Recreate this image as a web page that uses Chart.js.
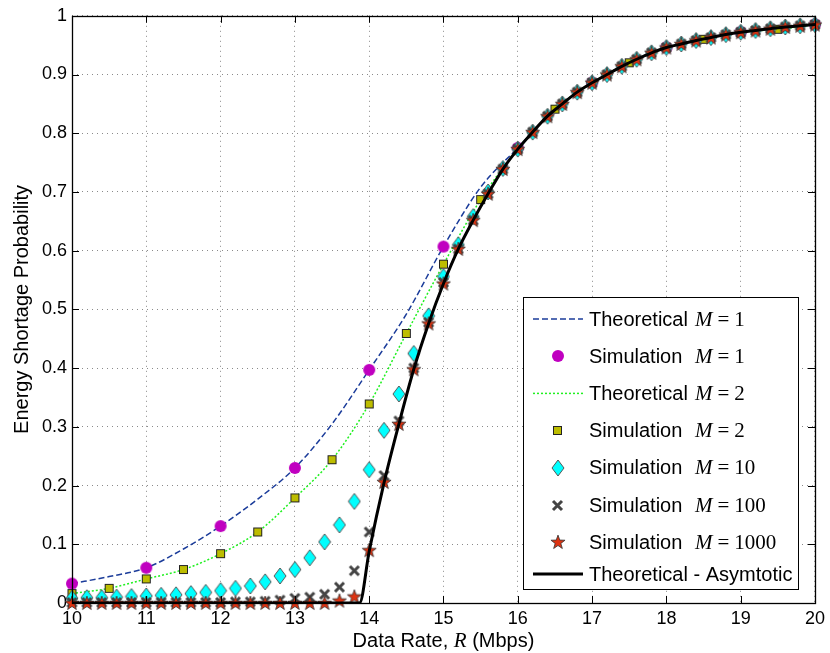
<!DOCTYPE html>
<html>
<head>
<meta charset="utf-8">
<script src="https://cdn.jsdelivr.net/npm/chart.js@4.4.1/dist/chart.umd.min.js"></script>
<style>
  html, body { margin: 0; padding: 0; background: #fff; }
  #wrap { width: 830px; height: 653px; position: relative; }
</style>
</head>
<body>
<div id="wrap"><canvas id="chart"></canvas></div>
<script>
// data rate grids (Mbps)
const rateInt = [10, 11, 12, 13, 14, 15, 16, 17, 18, 19, 20];
const rateHalf = [10, 10.5, 11, 11.5, 12, 12.5, 13, 13.5, 14, 14.5, 15, 15.5, 16, 16.5, 17, 17.5, 18, 18.5, 19, 19.5, 20];
const rateFine = [10, 10.2, 10.4, 10.6, 10.8, 11, 11.2, 11.4, 11.6, 11.8, 12, 12.2, 12.4, 12.6, 12.8,
  13, 13.2, 13.4, 13.6, 13.8, 14, 14.2, 14.4, 14.6, 14.8, 15, 15.2, 15.4, 15.6, 15.8,
  16, 16.2, 16.4, 16.6, 16.8, 17, 17.2, 17.4, 17.6, 17.8, 18, 18.2, 18.4, 18.6, 18.8,
  19, 19.2, 19.4, 19.6, 19.8, 20];
const asymRate = [10, 13.87, 14, 14.2, 14.4, 14.6, 14.8, 15, 15.2, 15.4, 15.6, 15.8,
  16, 16.2, 16.4, 16.6, 16.8, 17, 17.2, 17.4, 17.6, 17.8, 18, 18.2, 18.4, 18.6, 18.8,
  19, 19.2, 19.4, 19.6, 19.8, 20];

// energy shortage probability
const theoM1 = [0.033, 0.045, 0.060, 0.092, 0.131, 0.177, 0.230, 0.305, 0.397, 0.492, 0.607, 0.708, 0.775, 0.841, 0.886, 0.920, 0.946, 0.960, 0.972, 0.978, 0.985];
const simM1 = [0.033, 0.060, 0.131, 0.230, 0.397, 0.607, 0.775, 0.886, 0.946, 0.972, 0.985];
const theoM2 = [0.016, 0.025, 0.041, 0.057, 0.084, 0.121, 0.179, 0.244, 0.339, 0.459, 0.577, 0.687, 0.773, 0.841, 0.886, 0.920, 0.946, 0.960, 0.972, 0.977, 0.985];
const simM2 = [0.016, 0.025, 0.041, 0.057, 0.084, 0.121, 0.179, 0.244, 0.339, 0.459, 0.577, 0.687, 0.773, 0.841, 0.886, 0.920, 0.946, 0.960, 0.972, 0.977, 0.985];
const simM10 = [0.008, 0.009, 0.009, 0.010, 0.011, 0.012, 0.013, 0.014, 0.016, 0.018, 0.021, 0.025, 0.029, 0.036, 0.046,
  0.057, 0.077, 0.104, 0.133, 0.173, 0.227, 0.294, 0.356, 0.425, 0.489, 0.556, 0.610, 0.658, 0.700, 0.740,
  0.773, 0.802, 0.829, 0.850, 0.870, 0.886, 0.900, 0.914, 0.926, 0.937, 0.946, 0.952, 0.958, 0.963, 0.968,
  0.972, 0.975, 0.978, 0.981, 0.983, 0.985];
const simM100 = [0.001, 0.001, 0.001, 0.001, 0.001, 0.001, 0.001, 0.001, 0.001, 0.001, 0.001, 0.002, 0.002, 0.003, 0.005,
  0.008, 0.010, 0.015, 0.027, 0.055, 0.121, 0.217, 0.310, 0.400, 0.478, 0.546, 0.603, 0.652, 0.697, 0.739,
  0.773, 0.802, 0.829, 0.850, 0.870, 0.886, 0.900, 0.914, 0.926, 0.937, 0.946, 0.952, 0.958, 0.963, 0.968,
  0.972, 0.975, 0.978, 0.981, 0.983, 0.985];
const simM1000 = [0, 0, 0, 0, 0, 0, 0, 0, 0, 0, 0, 0, 0, 0, 0,
  0, 0, 0, 0.004, 0.011, 0.090, 0.206, 0.305, 0.398, 0.476, 0.544, 0.603, 0.652, 0.697, 0.739,
  0.773, 0.802, 0.829, 0.850, 0.870, 0.886, 0.900, 0.914, 0.926, 0.937, 0.946, 0.952, 0.958, 0.963, 0.968,
  0.972, 0.975, 0.978, 0.981, 0.983, 0.985];
const asymProb = [0, 0, 0.088, 0.205, 0.305, 0.398, 0.476, 0.544, 0.603, 0.652, 0.697, 0.739,
  0.773, 0.802, 0.829, 0.850, 0.870, 0.886, 0.900, 0.914, 0.926, 0.937, 0.946, 0.952, 0.958, 0.963, 0.968,
  0.972, 0.975, 0.978, 0.981, 0.983, 0.985];

// tick labels
const xTicks = [10, 11, 12, 13, 14, 15, 16, 17, 18, 19, 20];
const yTicks = ['0', '0.1', '0.2', '0.3', '0.4', '0.5', '0.6', '0.7', '0.8', '0.9', '1'];

// legend entries
const legendText = ['Theoretical', 'Simulation', 'Theoretical', 'Simulation', 'Simulation', 'Simulation', 'Simulation', 'Theoretical - Asymtotic'];
const legendM = ['1', '1', '2', '2', '10', '100', '1000', null];

const SANS = '"Liberation Sans", Arial, sans-serif';
const SERIF = '"Liberation Serif", "Times New Roman", serif';

function pts(xs, ys) {
    return xs.map((x, i) => ({ x: x, y: ys[i] }));
}

// matlab-like markers drawn on small canvases
function marker(w, h, draw) {
    const c = document.createElement('canvas');
    c.width = w;
    c.height = h;
    draw(c.getContext('2d'));
    return c;
}

const circleMk = marker(14, 14, g => {
    g.fillStyle = '#c000c0';
    g.beginPath();
    g.arc(7, 7, 6, 0, Math.PI * 2);
    g.fill();
});

const squareMk = marker(13, 13, g => {
    g.fillStyle = '#bdbd00';
    g.fillRect(2, 2, 9, 9);
    g.strokeStyle = '#222';
    g.lineWidth = 1;
    g.strokeRect(2.5, 2.5, 8, 8);
});

const diamondMk = marker(14, 18, g => {
    g.fillStyle = '#00ffff';
    g.strokeStyle = '#555';
    g.lineWidth = 1;
    g.beginPath();
    g.moveTo(7, 1);
    g.lineTo(13, 9);
    g.lineTo(7, 17);
    g.lineTo(1, 9);
    g.closePath();
    g.fill();
    g.stroke();
});

const crossMk = marker(13, 13, g => {
    g.strokeStyle = '#444';
    g.lineWidth = 3;
    g.beginPath();
    g.moveTo(2, 2); g.lineTo(11, 11);
    g.moveTo(11, 2); g.lineTo(2, 11);
    g.stroke();
});

const starMk = marker(16, 16, g => {
    g.fillStyle = '#dd3311';
    g.strokeStyle = '#333';
    g.lineWidth = 0.8;
    g.beginPath();
    for (let i = 0; i < 10; i++) {
        const r = i % 2 === 0 ? 7.4 : 3;
        const a = -Math.PI / 2 + i * Math.PI / 5;
        const px = 8 + r * Math.cos(a), py = 8.5 + r * Math.sin(a);
        if (i === 0) g.moveTo(px, py); else g.lineTo(px, py);
    }
    g.closePath();
    g.fill();
    g.stroke();
});

function markerSet(label, xs, ys, mk) {
    return {
        label: label,
        data: pts(xs, ys),
        showLine: false,
        pointStyle: mk,
        pointRadius: 6,
        clip: false
    };
}

const datasets = [
    {
        label: 'Theoretical M=1',
        data: pts(rateHalf, theoM1),
        showLine: true,
        borderColor: '#1b3c9a',
        borderWidth: 1.5,
        borderDash: [6, 3],
        pointRadius: 0,
        cubicInterpolationMode: 'monotone'
    },
    markerSet('Simulation M=1', rateInt, simM1, circleMk),
    {
        label: 'Theoretical M=2',
        data: pts(rateHalf, theoM2),
        showLine: true,
        borderColor: '#20f020',
        borderWidth: 1.5,
        borderDash: [2, 2],
        pointRadius: 0,
        cubicInterpolationMode: 'monotone'
    },
    markerSet('Simulation M=2', rateHalf, simM2, squareMk),
    markerSet('Simulation M=10', rateFine, simM10, diamondMk),
    markerSet('Simulation M=100', rateFine, simM100, crossMk),
    markerSet('Simulation M=1000', rateFine, simM1000, starMk),
    {
        label: 'Theoretical - Asymtotic',
        data: pts(asymRate, asymProb),
        showLine: true,
        borderColor: '#000',
        borderWidth: 3,
        pointRadius: 0,
        cubicInterpolationMode: 'monotone'
    }
];
// first plotted sits at the bottom, like matlab
datasets.forEach((d, i) => { d.order = datasets.length - i; });

// axes box with inward ticks
const frame = {
    id: 'frame',
    afterDatasetsDraw(chart) {
        const { ctx, chartArea: a, scales } = chart;
        ctx.save();
        ctx.strokeStyle = '#000';
        ctx.lineWidth = 1;
        ctx.beginPath();
        xTicks.forEach(v => {
            const x = Math.round(scales.x.getPixelForValue(v)) + 0.5;
            ctx.moveTo(x, a.bottom); ctx.lineTo(x, a.bottom - 7);
            ctx.moveTo(x, a.top); ctx.lineTo(x, a.top + 7);
        });
        yTicks.forEach(v => {
            const y = Math.round(scales.y.getPixelForValue(+v)) + 0.5;
            ctx.moveTo(a.left, y); ctx.lineTo(a.left + 7, y);
            ctx.moveTo(a.right, y); ctx.lineTo(a.right - 7, y);
        });
        ctx.stroke();
        ctx.lineWidth = 1.3;
        ctx.strokeRect(Math.round(a.left) + 0.5, Math.round(a.top) + 0.5, Math.round(a.right - a.left), Math.round(a.bottom - a.top));
        ctx.restore();
    }
};

// axis titles and legend with math text
const overlay = {
    id: 'overlay',
    afterDraw(chart) {
        const { ctx, chartArea: a } = chart;
        ctx.save();
        ctx.fillStyle = '#000';

        // x title: Data Rate, R (Mbps)
        const parts = [
            ['Data Rate, ', '20px ' + SANS],
            ['R', 'italic 21px ' + SERIF],
            [' (Mbps)', '20px ' + SANS]
        ];
        let total = 0;
        parts.forEach(p => { ctx.font = p[1]; total += ctx.measureText(p[0]).width; });
        let tx = (a.left + a.right) / 2 - total / 2;
        ctx.textBaseline = 'alphabetic';
        parts.forEach(p => {
            ctx.font = p[1];
            ctx.fillText(p[0], tx, 647);
            tx += ctx.measureText(p[0]).width;
        });

        // y title
        ctx.save();
        ctx.translate(28, (a.top + a.bottom) / 2);
        ctx.rotate(-Math.PI / 2);
        ctx.font = '20px ' + SANS;
        ctx.textAlign = 'center';
        ctx.fillText('Energy Shortage Probability', 0, 0);
        ctx.restore();

        // legend box
        const bw = 275, bh = 292;
        const bx = a.right - 17 - bw, by = a.bottom - 14 - bh;
        ctx.fillStyle = '#fff';
        ctx.fillRect(bx, by, bw, bh);
        ctx.strokeStyle = '#000';
        ctx.lineWidth = 1;
        ctx.strokeRect(Math.round(bx) + 0.5, Math.round(by) + 0.5, bw, bh);

        chart.data.datasets.forEach((d, i) => {
            const cy = by + (i < 7 ? 22 + 37.2 * i : 277);
            const lx = bx + 10, rx = bx + 60, mx = bx + 35;
            if (d.showLine) {
                ctx.save();
                ctx.strokeStyle = d.borderColor;
                ctx.lineWidth = d.borderWidth;
                ctx.setLineDash(d.borderDash || []);
                ctx.beginPath();
                ctx.moveTo(lx, cy);
                ctx.lineTo(rx, cy);
                ctx.stroke();
                ctx.restore();
            } else {
                const mk = d.pointStyle;
                ctx.drawImage(mk, Math.round(mx - mk.width / 2), Math.round(cy - mk.height / 2));
            }
            ctx.fillStyle = '#000';
            ctx.textBaseline = 'middle';
            ctx.textAlign = 'left';
            ctx.font = '20px ' + SANS;
            const textX = bx + 66;
            ctx.fillText(legendText[i], textX, cy + 1);
            if (legendM[i] !== null) {
                let x = textX + 106;
                ctx.font = 'italic 21px ' + SERIF;
                ctx.fillText('M', x, cy + 1);
                x += ctx.measureText('M').width + 5;
                ctx.font = '21px ' + SERIF;
                ctx.fillText('=', x, cy + 1);
                x += ctx.measureText('=').width + 5;
                ctx.fillText(legendM[i], x, cy + 1);
            }
        });
        ctx.restore();
    }
};

const ctx = document.getElementById('chart').getContext('2d');
new Chart(ctx, {
    type: 'scatter',
    data: { datasets: datasets },
    options: {
        responsive: true,
        maintainAspectRatio: false,
        animation: false,
        layout: { padding: { top: 13, right: 10, left: 0, bottom: 0 } },
        plugins: {
            legend: { display: false },
            tooltip: { enabled: false }
        },
        scales: {
            x: {
                type: 'linear',
                min: 10,
                max: 20,
                afterBuildTicks: s => { s.ticks = xTicks.map(v => ({ value: v })); },
                afterFit: s => { s.height = 50; },
                ticks: {
                    color: '#000',
                    font: { family: SANS, size: 18 },
                    padding: 5,
                    maxRotation: 0,
                    callback: v => String(v)
                },
                grid: { color: '#8a8a8a', lineWidth: 1, drawTicks: false },
                border: { display: false, dash: [1, 4] }
            },
            y: {
                type: 'linear',
                min: 0,
                max: 1,
                afterBuildTicks: s => { s.ticks = yTicks.map(v => ({ value: +v })); },
                afterFit: s => { s.width = 72; },
                ticks: {
                    color: '#000',
                    font: { family: SANS, size: 18 },
                    padding: 5,
                    callback: (v, i) => yTicks[i]
                },
                grid: { color: '#8a8a8a', lineWidth: 1, drawTicks: false },
                border: { display: false, dash: [1, 4] }
            }
        }
    },
    plugins: [frame, overlay]
});
</script>
</body>
</html>
